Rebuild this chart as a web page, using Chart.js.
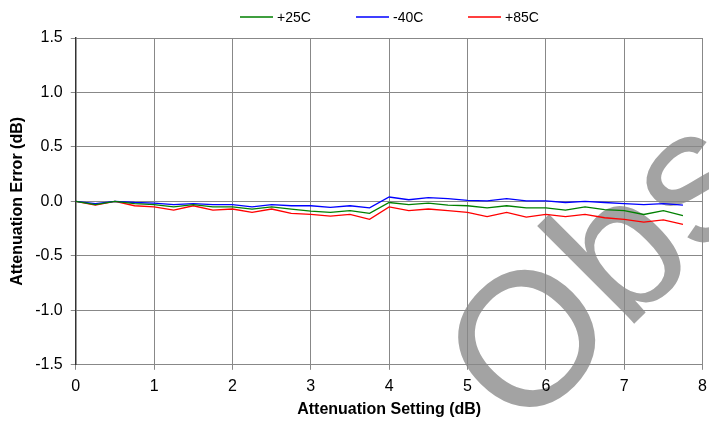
<!DOCTYPE html>
<html>
<head>
<meta charset="utf-8">
<script src="https://cdn.jsdelivr.net/npm/chart.js@4.4.1/dist/chart.umd.min.js"></script>
<style>
  html, body { margin: 0; padding: 0; background: #fff; }
  canvas { display: block; }
</style>
</head>
<body>
<canvas id="chart" width="709" height="425"></canvas>
<script>
// attenuation setting (dB), one reading every 0.25 dB
const settings = [0, 0.25, 0.5, 0.75, 1, 1.25, 1.5, 1.75, 2, 2.25, 2.5, 2.75, 3, 3.25, 3.5, 3.75,
  4, 4.25, 4.5, 4.75, 5, 5.25, 5.5, 5.75, 6, 6.25, 6.5, 6.75, 7, 7.25, 7.5, 7.75];

const err25 = [0, -0.03, 0, -0.02, -0.03, -0.05, -0.03, -0.05, -0.05, -0.07, -0.05, -0.07, -0.09, -0.10, -0.085, -0.11,
  -0.01, -0.03, -0.015, -0.035, -0.04, -0.06, -0.04, -0.06, -0.06, -0.08, -0.05, -0.075, -0.085, -0.12, -0.085, -0.13];

const errM40 = [0, -0.02, 0, -0.01, -0.015, -0.03, -0.02, -0.03, -0.03, -0.05, -0.03, -0.04, -0.04, -0.055, -0.04, -0.06,
  0.04, 0.015, 0.035, 0.025, 0.01, 0.005, 0.025, 0.005, 0.005, -0.01, 0, -0.01, -0.02, -0.03, -0.02, -0.035];

const err85 = [0, -0.035, 0, -0.04, -0.05, -0.08, -0.04, -0.08, -0.07, -0.10, -0.07, -0.11, -0.12, -0.135, -0.12, -0.165,
  -0.05, -0.085, -0.07, -0.085, -0.10, -0.14, -0.10, -0.145, -0.12, -0.14, -0.12, -0.15, -0.165, -0.19, -0.17, -0.21];

const seriesNames = ['+25C', '-40C', '+85C'];
const seriesColors = ['#008000', '#0000ff', '#ff0000'];

const FONT = "'Liberation Sans', Arial, sans-serif";

const toPoints = (vals) => vals.map((v, i) => ({ x: settings[i], y: v }));

// grey "Obsolete" stamp behind everything
const watermark = {
  id: 'watermark',
  beforeDraw(chart) {
    const ctx = chart.ctx;
    ctx.save();
    ctx.translate(521, 437);
    ctx.rotate(-Math.PI / 4);
    ctx.fillStyle = '#a3a3a3';
    ctx.font = '190px ' + FONT;
    ctx.textBaseline = 'alphabetic';
    ctx.fillText('Obsolete', 0, 0);
    ctx.restore();
  }
};

// legend row above the plot: short line then label
const lineLegend = {
  id: 'lineLegend',
  afterDraw(chart) {
    const ctx = chart.ctx;
    const area = chart.chartArea;
    const lineLen = 33, gap = 4, spacing = 45;
    ctx.save();
    ctx.setLineDash([]);
    ctx.globalAlpha = 1;
    ctx.font = '14px ' + FONT;
    const items = seriesNames.map((name, i) => ({
      text: name, color: seriesColors[i], w: lineLen + gap + ctx.measureText(name).width
    }));
    const total = items.reduce((s, it) => s + it.w, 0) + spacing * (items.length - 1);
    let x = Math.round((area.left + area.right) / 2 - total / 2);
    const y = 17;
    items.forEach(it => {
      ctx.fillStyle = it.color;
      ctx.fillRect(x, y - 0.75, lineLen, 1.5);
      ctx.fillStyle = '#000';
      ctx.textBaseline = 'middle';
      ctx.textAlign = 'left';
      ctx.fillText(it.text, x + lineLen + gap, y + 1);
      x += Math.round(it.w + spacing);
    });
    ctx.restore();
  }
};

new Chart(document.getElementById('chart'), {
  type: 'line',
  data: {
    datasets: [
      { label: seriesNames[0], data: toPoints(err25), borderColor: seriesColors[0] },
      { label: seriesNames[1], data: toPoints(errM40), borderColor: seriesColors[1] },
      { label: seriesNames[2], data: toPoints(err85), borderColor: seriesColors[2] }
    ].map(ds => Object.assign(ds, {
      borderWidth: 1.3, pointRadius: 0, tension: 0, fill: false
    }))
  },
  options: {
    responsive: false,
    animation: false,
    layout: { padding: { top: 38, right: 0, bottom: 0, left: 0 } },
    plugins: {
      legend: { display: false },
      tooltip: { enabled: false }
    },
    scales: {
      x: {
        type: 'linear',
        min: 0,
        max: 8,
        ticks: { stepSize: 1, color: '#000', padding: 2, font: { family: FONT, size: 16, lineHeight: 1.875 } },
        grid: { color: '#888', lineWidth: 1, tickLength: 5 },
        border: { color: '#888' },
        title: {
          display: true,
          text: 'Attenuation Setting (dB)',
          color: '#000',
          font: { family: FONT, size: 16, weight: 'bold' },
          padding: { top: -4, bottom: 6 }
        }
      },
      y: {
        min: -1.5,
        max: 1.5,
        ticks: {
          stepSize: 0.5, color: '#000', padding: 8, font: { family: FONT, size: 16 },
          callback: v => v.toFixed(1)
        },
        grid: { color: '#888', lineWidth: 1, tickLength: 5 },
        border: { color: '#333', width: 1.5 },
        title: {
          display: true,
          text: 'Attenuation Error (dB)',
          color: '#000',
          font: { family: FONT, size: 16, weight: 'bold' },
          padding: { top: 8, bottom: 0 }
        }
      }
    }
  },
  plugins: [watermark, lineLegend]
});
</script>
</body>
</html>
